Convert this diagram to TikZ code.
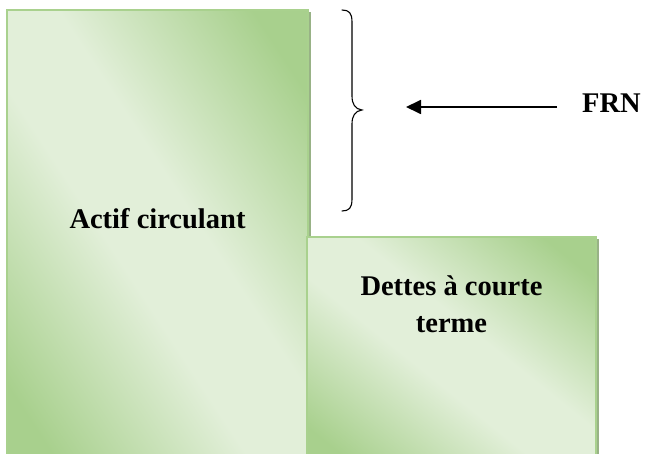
\documentclass[tikz,border=0pt]{standalone}
\usepackage{fontspec}
\setmainfont{Liberation Serif}
\usetikzlibrary{arrows.meta}
\definecolor{gdark}{HTML}{A8D08D}
\definecolor{glight}{HTML}{E2EFD9}
\definecolor{gedge}{HTML}{A9D18E}
\definecolor{gshadow}{HTML}{98B286}
% diagonal fade: green corners, pale band along the middle
\pgfdeclareverticalshading{panelfade}{100bp}{color(0bp)=(gdark); color(21bp)=(gdark);
  color(44bp)=(glight); color(56bp)=(glight); color(79bp)=(gdark); color(100bp)=(gdark)}
\begin{document}
\begin{tikzpicture}[x=1pt,y=-1pt,
  panel/.style={shading=panelfade, shading angle=-45},
  panelshadow/.style={fill=gshadow},
  panelrim/.style={draw=gedge, line width=1.5pt},
  label/.style={font=\bfseries\fontsize{28.5}{37}\selectfont, align=center,
    inner sep=0pt},
  brace/.style={line width=1.1pt, line cap=round},
  pointer/.style={line width=1.8pt, -{Triangle[length=15pt,width=14pt]}}]
\useasboundingbox (0,0) rectangle (646,454);
\begin{scope}
\clip (0,0) rectangle (646,454);
% left panel: current assets
\fill[panelshadow] (9.5,12.5) rectangle (310.5,470);
\begin{scope}[transform canvas={shift={(7,10)}, xscale=3.01, yscale=4.6}]
  \shade[panel] (0,0) rectangle (100,100);
\end{scope}
\draw[panelrim] (7,10) rectangle (308,470);
% right panel: short-term debts
\fill[panelshadow] (309.5,239.5) rectangle (598.5,470);
\begin{scope}[transform canvas={shift={(307,237)}, xscale=2.89, yscale=2.33}]
  \shade[panel] (0,0) rectangle (100,100);
\end{scope}
\draw[panelrim] (307,237) rectangle (596,470);
\end{scope}
\node[label, anchor=base] (ac) at (157.5,229) {Actif circulant};
\node[label, anchor=base] (dct) at (451.5,333) {Dettes à courte\\terme};
% brace spanning the gap above the right panel
\draw[brace] (342,10) .. controls (349,10) and (352,13) .. (352,22)
  -- (352,96) .. controls (352,104) and (355,109) .. (362,110)
  .. controls (355,111) and (352,116) .. (352,124)
  -- (352,199) .. controls (352,208) and (349,211) .. (342,211);
\node[label, anchor=base west] (frn) at (582,113) {FRN};
\coordinate (tip) at (406,107);
\coordinate (tail) at (557,107);
\draw[pointer] (tail) -- (tip);
\end{tikzpicture}
\end{document}
